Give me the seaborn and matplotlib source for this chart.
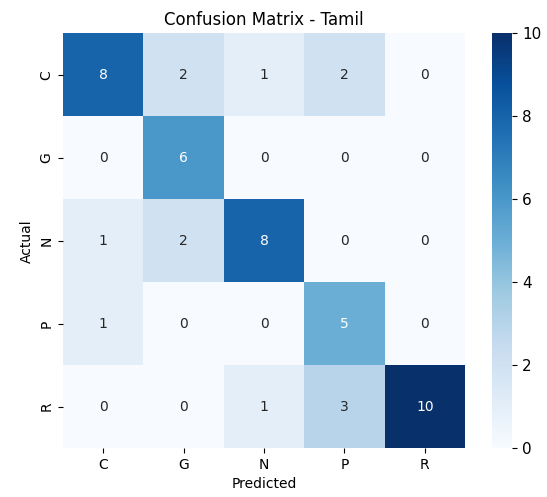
import numpy as np
import matplotlib
matplotlib.use('Agg')
import matplotlib.pyplot as plt
import seaborn as sns

# Class labels and confusion counts (rows = actual, cols = predicted)
labels = ['C', 'G', 'N', 'P', 'R']
conf_matrix = np.array([
    [8, 2, 1, 2, 0],
    [0, 6, 0, 0, 0],
    [1, 2, 8, 0, 0],
    [1, 0, 0, 5, 0],
    [0, 0, 1, 3, 10],
])

fig = plt.figure(figsize=(5.47, 4.97), dpi=100)
ax = fig.add_axes([0.1152, 0.0986, 0.735, 0.834])
cax = fig.add_axes([0.899, 0.0986, 0.0377, 0.834])

sns.heatmap(conf_matrix, annot=True, fmt='d', cmap='Blues',
            xticklabels=labels, yticklabels=labels, ax=ax, cbar_ax=cax)
cax.tick_params(labelsize=11)
ax.set_ylabel('Actual')
ax.set_xlabel('Predicted')
ax.set_title('Confusion Matrix - Tamil')

plt.savefig('out.png', dpi=100)
